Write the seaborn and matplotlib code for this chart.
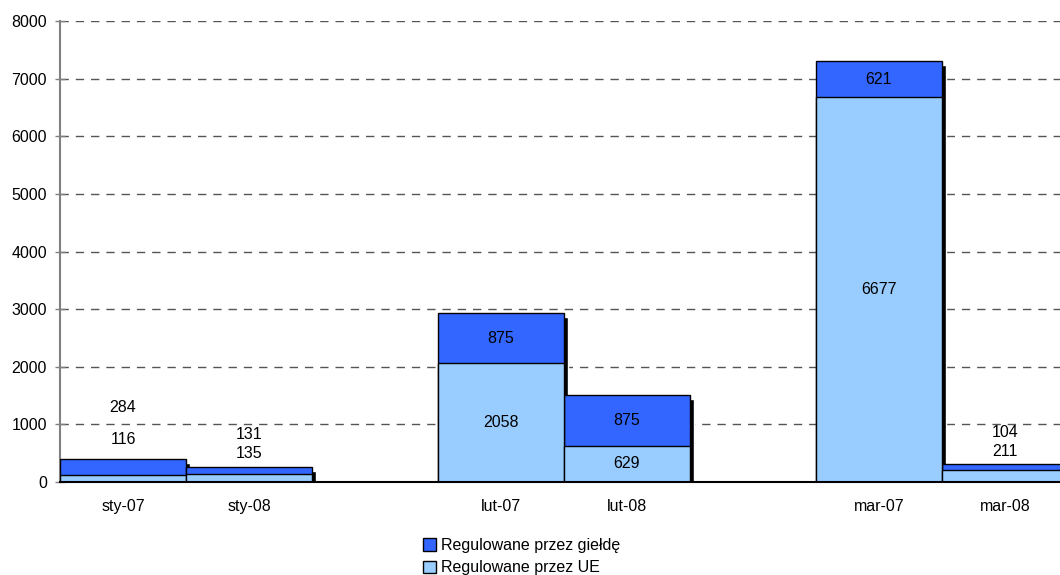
import numpy as np
import pandas as pd
import matplotlib
matplotlib.use("Agg")
import matplotlib.pyplot as plt
import matplotlib.transforms as mtransforms
from matplotlib.patches import Patch
import seaborn as sns

# data
months = ["sty-07", "sty-08", " ", "lut-07", "lut-08", "  ", "mar-07", "mar-08"]
ue = [116, 135, None, 2058, 629, None, 6677, 211]
gielda = [284, 131, None, 875, 875, None, 621, 104]
# small bars: labels placed above the bar (data units), as in the original
above_labels = {"sty-07": (1300, 745), "sty-08": (830, 500), "mar-08": (865, 535)}

dark = "#3366FF"
light = "#99CCFF"

sns.set_style("white")
plt.rcParams["font.family"] = ["Liberation Sans", "DejaVu Sans"]
plt.rcParams["font.size"] = 11.5
plt.rcParams["text.color"] = "black"
plt.rcParams["xtick.color"] = "black"
plt.rcParams["ytick.color"] = "black"

df = pd.DataFrame({"month": months, "ue": ue, "gielda": gielda}).dropna()
df["total"] = df["ue"] + df["gielda"]

fig = plt.figure(figsize=(10.6, 5.75), dpi=100)
# axes runs past the right edge, the last bar is cut like in the original
ax = fig.add_axes([60 / 1060, 93 / 575, 1134 / 1060, 461 / 575])

# drop shadow of the whole stack
sns.barplot(data=df, x="month", y="total", order=months + ["   "], color="black",
            saturation=1, width=1.0, ax=ax, zorder=2)
shadow = mtransforms.offset_copy(ax.transData, fig=fig, x=4, y=-4, units="dots")
for p in ax.patches:
  p.set_transform(shadow)

sns.barplot(data=df, x="month", y="total", order=months + ["   "], color=dark,
            saturation=1, width=1.0, edgecolor="black", linewidth=1, ax=ax, zorder=3)
sns.barplot(data=df, x="month", y="ue", order=months + ["   "], color=light,
            saturation=1, width=1.0, edgecolor="black", linewidth=1, ax=ax, zorder=4)

# value labels
for i, m in enumerate(months):
  if m.strip() == "":
    continue
  u = ue[i]
  g = gielda[i]
  if m in above_labels:
    yg, yu = above_labels[m]
  else:
    yu = u / 2
    yg = u + g / 2
  ax.text(i, yg, str(g), ha="center", va="center", fontsize=11.5, color="black", zorder=6)
  ax.text(i, yu, str(u), ha="center", va="center", fontsize=11.5, color="black", zorder=6)

ax.set_xlim(-0.5, 8.5)
ax.set_ylim(0, 8000)
ax.set_yticks(np.arange(0, 8001, 1000))
ax.yaxis.grid(True, linestyle=(0, (6, 5)), color="#555555", linewidth=1)
ax.set_axisbelow(True)

ax.set_xticks(np.arange(-0.5, 9, 1))
ax.set_xticklabels([])
ax.set_xticks(np.arange(0, 8), minor=True)
ax.set_xticklabels([m.strip() for m in months], minor=True)
ax.tick_params(axis="x", which="major", direction="out", length=6, width=1, color="black")
ax.tick_params(axis="x", which="minor", length=0, pad=12, labelsize=11.5)
ax.tick_params(axis="y", direction="inout", length=7, width=1, color="#808080",
               pad=6, labelsize=11.5, left=True)
ax.set_xlabel("")
ax.set_ylabel("")

for s in ["top", "right"]:
  ax.spines[s].set_visible(False)
ax.spines["left"].set_color("#808080")
ax.spines["left"].set_linewidth(1.5)
ax.spines["bottom"].set_color("black")
ax.spines["bottom"].set_linewidth(1.5)
ax.spines["bottom"].set_zorder(5)

handles = [Patch(facecolor=dark, edgecolor="black", label="Regulowane przez giełdę"),
           Patch(facecolor=light, edgecolor="black", label="Regulowane przez UE")]
fig.legend(handles=handles, loc="center", bbox_to_anchor=(0.492, 0.032), frameon=False,
           fontsize=11.5, handlelength=0.8, handleheight=0.8, handletextpad=0.3,
           labelspacing=0.45)

fig.savefig("out.png", dpi=100)
